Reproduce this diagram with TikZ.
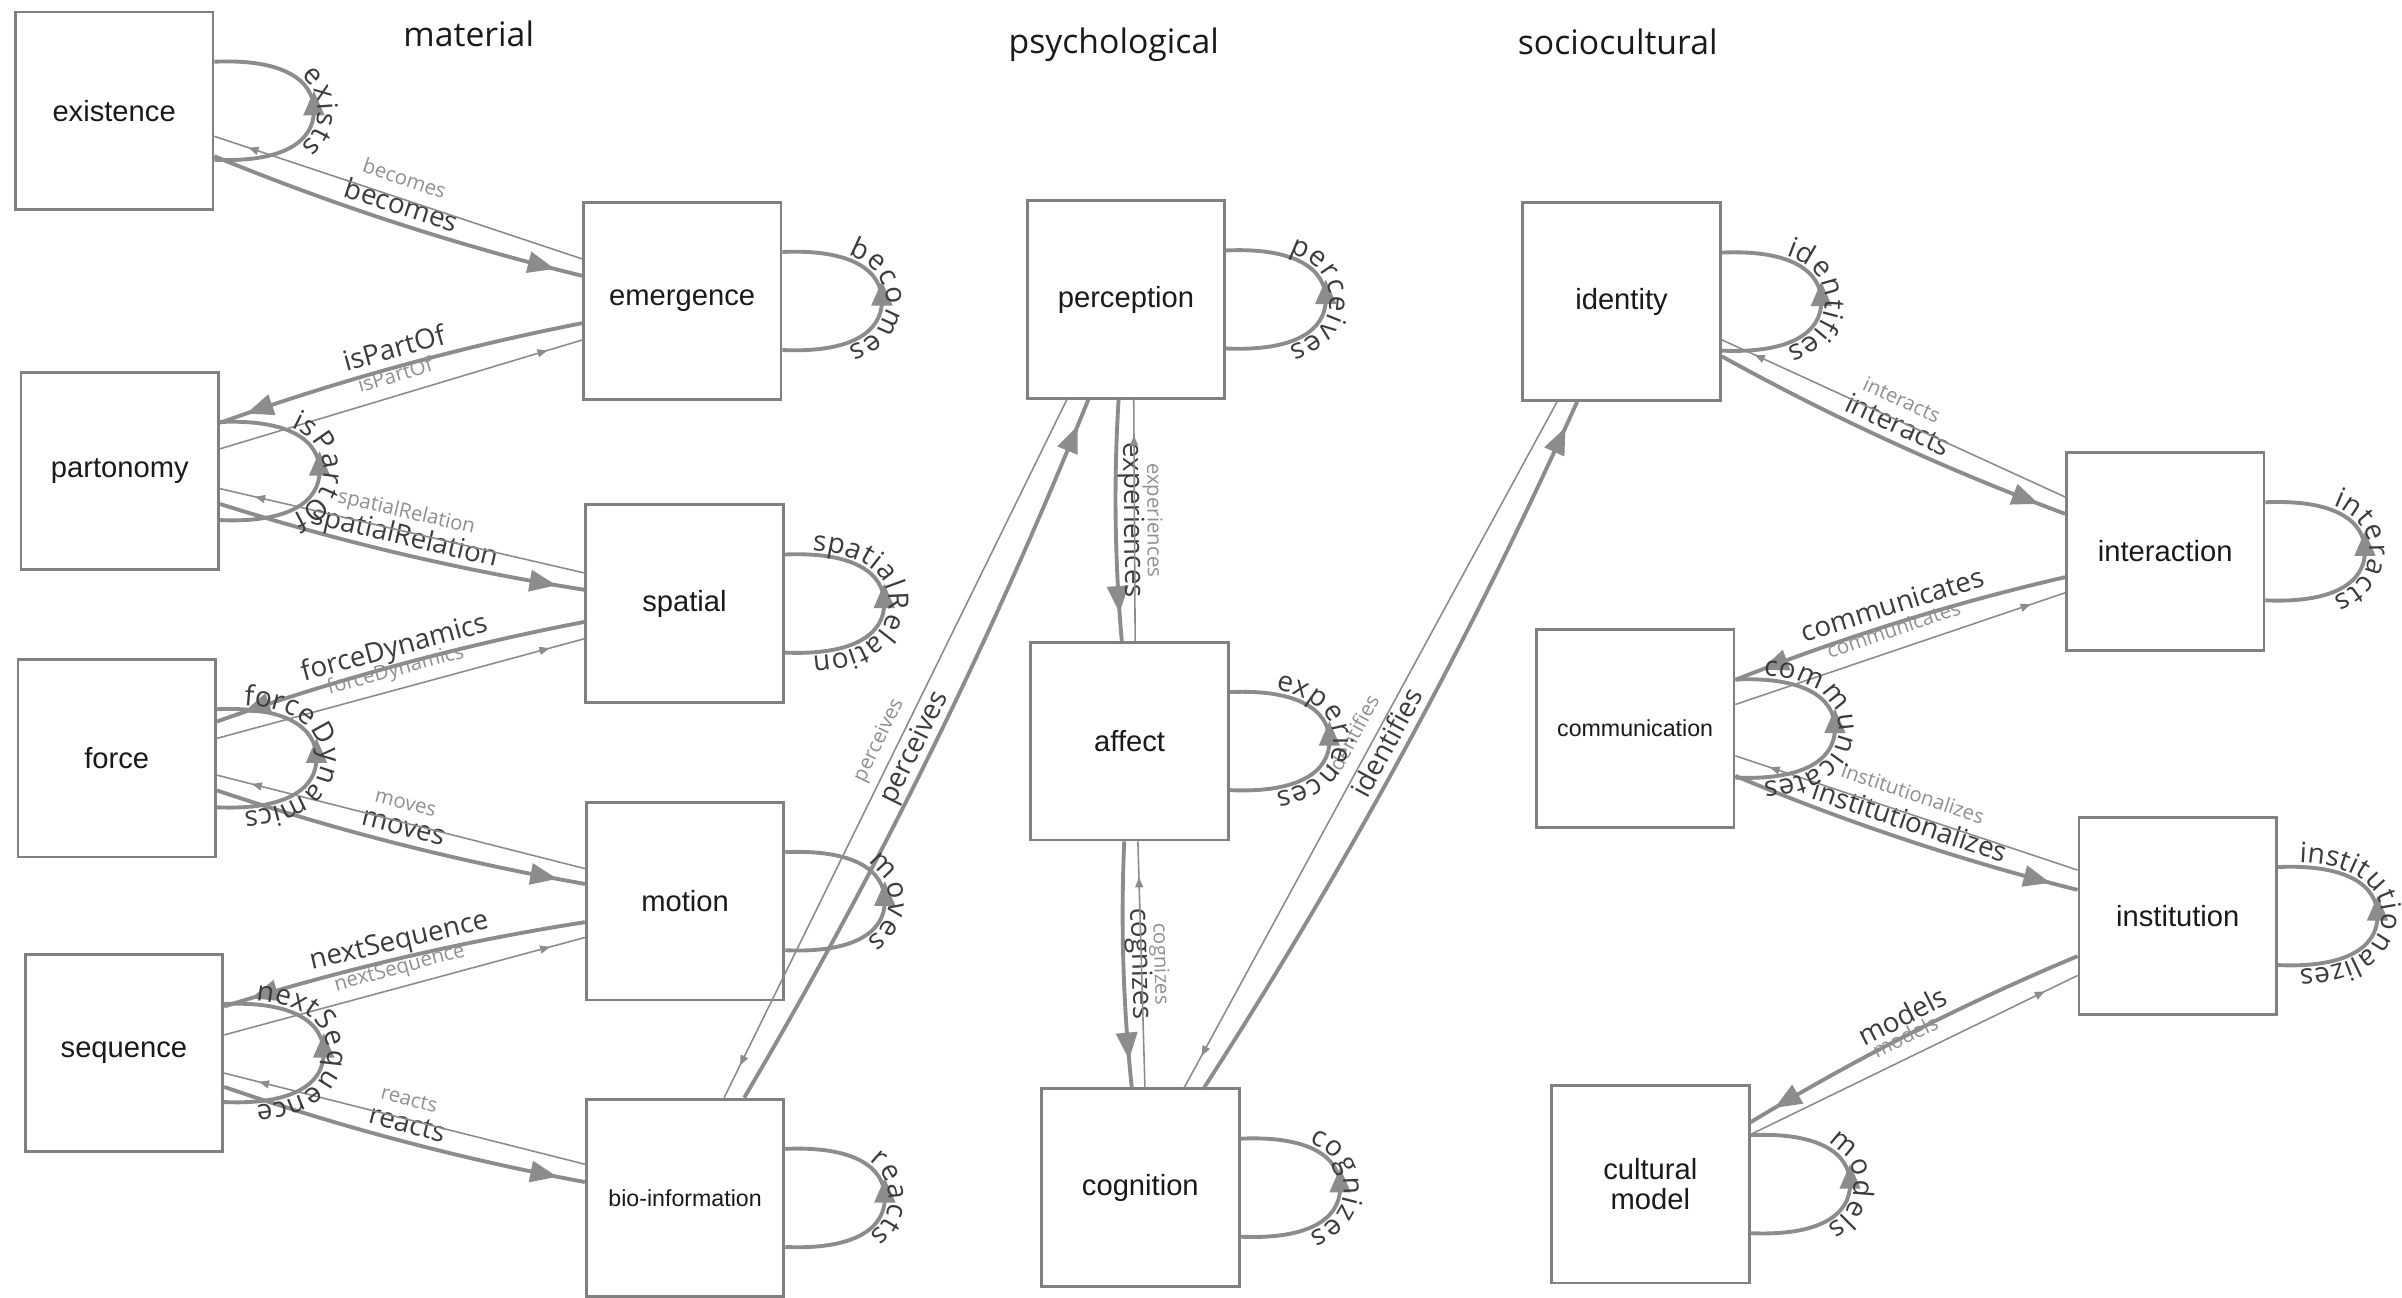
\documentclass[tikz,border=0pt]{standalone}
\usepackage{fontspec}
\setmainfont{Liberation Sans}
\newfontfamily\lblfont{Open Sans}
\usetikzlibrary{arrows.meta,calc,decorations.markings,decorations.text}

\definecolor{boxgray}{HTML}{808080}
\definecolor{linegray}{HTML}{8C8C8C}
\definecolor{labeldark}{HTML}{3C3C3C}
\definecolor{labellight}{HTML}{909090}
\definecolor{boxtext}{HTML}{1A1A1A}

\tikzset{
  bigtip/.tip={Triangle[length=0.27cm,width=0.21cm]},
  smalltip/.tip={Triangle[length=0.1cm,width=0.08cm]},
  box/.style={draw=boxgray, line width=0.8pt, fill=white, minimum width=1.976cm, minimum height=1.976cm,
    inner sep=0pt, align=center, font=\fontsize{8.3}{8.3}\selectfont, text=boxtext},
  smalltext/.style={font=\fontsize{6.6}{8}\selectfont},
  title/.style={font=\lblfont\fontsize{9.6}{11}\selectfont, text=boxtext, inner sep=0pt},
  thickline/.style={draw=linegray, line width=1.1pt},
  thinline/.style={draw=linegray, line width=0.45pt},
  loopline/.style={draw=linegray, line width=1.1pt},
  looptip/.style={fill=linegray, draw=none},
  biglabel/.style={pos=0.5, sloped, above=2pt, inner sep=0pt, text depth=0pt,
    font=\lblfont\fontsize{7.9}{9}\selectfont, text=labeldark},
  smalllabel/.style={pos=0.5, sloped, above=3.5pt, inner sep=0pt, text depth=0pt,
    font=\lblfont\fontsize{5.8}{7}\selectfont, text=labellight},
}

\newcommand{\looplab}{\lblfont\fontsize{8}{9}\selectfont\color{labeldark}}

% thick, slightly bowed connector with arrow near its end
\newcommand{\thickE}[3]{%
  \draw[thickline, decoration={markings, mark=at position -0.28cm with {\arrow[linegray]{bigtip}}}, postaction={decorate}]
    let \p1=(#1), \p2=(#2), \p3=({0.025*((\y2)-(\y1))},{-0.025*((\x2)-(\x1))}) in
    (\p1) .. controls ({\x1+((\x2)-(\x1))/3+(\x3)},{\y1+((\y2)-(\y1))/3+(\y3)})
          and ({\x1+2*((\x2)-(\x1))/3+(\x3)},{\y1+2*((\y2)-(\y1))/3+(\y3)}) .. (\p2)
    node[biglabel] {#3};}

% thin straight connector with small arrow near its end
\newcommand{\thinE}[3]{%
  \draw[thinline, decoration={markings, mark=at position -0.36cm with {\arrow[linegray]{smalltip}}}, postaction={decorate}]
    (#1) -- (#2) node[smalllabel] {#3};}

% self loop on the right side of a box, arrow pointing up at its far right
\newcommand{\selfloop}[2]{%
  \draw[loopline]
    ($(#1.east)+(0,32)$) .. controls +(45,2) and +(0,20) .. ($(#1.east)+(65,0)$)
    .. controls +(0,-20) and +(45,-2) .. ($(#1.east)+(0,-32)$);
  \fill[looptip] ($(#1.east)+(65,-13)$) -- ($(#1.east)+(72,3)$) -- ($(#1.east)+(58,3)$) -- cycle;
  \path[decorate, decoration={text along path, text align=center, raise=1.2pt, text={|\looplab|#2}}]
    ($(#1.east)+(0,-32)$) .. controls +(45,-2) and +(0,-20) .. ($(#1.east)+(65,0)$)
    .. controls +(0,20) and +(45,2) .. ($(#1.east)+(0,32)$);}

\begin{document}
\begin{tikzpicture}[x=0.01532cm, y=-0.01532cm]
\useasboundingbox (0,0) rectangle (1568,847.3);
\fill[white] (0,0) rectangle (1568,847.3);

% titles
\node[title] (tmat) at (306,22) {material};
\node[title] (tpsy) at (727,29) {psychological};
\node[title] (tsoc) at (1056,27) {sociocultural};

% boxes
\node[box] (existence) at (74.5,72.3) {existence};
\node[box] (emergence) at (445.3,196.5) {emergence};
\node[box] (partonomy) at (78.2,307.5) {partonomy};
\node[box] (spatial) at (446.8,394) {spatial};
\node[box] (force) at (76.2,495) {force};
\node[box] (motion) at (447.2,588.3) {motion};
\node[box] (sequence) at (80.9,687.4) {sequence};
\node[box,smalltext] (bio) at (447.2,782) {bio-information};
\node[box] (perception) at (735,195.5) {perception};
\node[box] (affect) at (737.4,483.8) {affect};
\node[box] (cognition) at (744.4,775.3) {cognition};
\node[box] (identity) at (1058.5,196.9) {identity};
\node[box] (interaction) at (1413.4,359.9) {interaction};
\node[box,smalltext] (communication) at (1067.4,475.6) {communication};
\node[box] (institution) at (1421.6,598) {institution};
\node[box] (cultural) at (1077.3,773) {cultural\\model};

% material
\thickE{$(existence.east)+(0,29.7)$}{$(emergence.west)+(0,-16.5)$}{becomes}
\thinE{$(emergence.west)+(0,-27.5)$}{$(existence.east)+(0,16.7)$}{becomes}
\thickE{$(emergence.west)+(0,14.5)$}{$(partonomy.east)+(0,-31.5)$}{isPartOf}
\thinE{$(partonomy.east)+(0,-14.5)$}{$(emergence.west)+(0,25.5)$}{isPartOf}
\thickE{$(partonomy.east)+(0,21.5)$}{$(spatial.west)+(0,-9)$}{spatialRelation}
\thinE{$(spatial.west)+(0,-20)$}{$(partonomy.east)+(0,11.5)$}{spatialRelation}
\thickE{$(spatial.west)+(0,12)$}{$(force.east)+(0,-24)$}{forceDynamics}
\thinE{$(force.east)+(0,-13)$}{$(spatial.west)+(0,23)$}{forceDynamics}
\thickE{$(force.east)+(0,21)$}{$(motion.west)+(0,-11.3)$}{moves}
\thinE{$(motion.west)+(0,-21.3)$}{$(force.east)+(0,11)$}{moves}
\thickE{$(motion.west)+(0,13.7)$}{$(sequence.east)+(0,-30.4)$}{nextSequence}
\thinE{$(sequence.east)+(0,-11.8)$}{$(motion.west)+(0,23.7)$}{nextSequence}
\thickE{$(sequence.east)+(0,22.1)$}{$(bio.west)+(0,-10.4)$}{reacts}
\thinE{$(bio.west)+(0,-22)$}{$(sequence.east)+(0,13.1)$}{reacts}

% psychological
\thickE{$(bio.north)+(38.6,0)$}{$(perception.south)+(-24.6,0)$}{perceives}
\thinE{$(perception.south)+(-38.6,0)$}{$(bio.north)+(25.5,0)$}{perceives}
\thickE{$(perception.south)+(-4.8,0)$}{$(affect.north)+(-5.1,0)$}{experiences}
\thinE{$(affect.north)+(3.6,0)$}{$(perception.south)+(5.1,0)$}{experiences}
\thickE{$(affect.south)+(-3.5,0)$}{$(cognition.north)+(-5.6,0)$}{cognizes}
\thinE{$(cognition.north)+(3,0)$}{$(affect.south)+(5.4,0)$}{cognizes}
\thickE{$(cognition.north)+(41.7,0)$}{$(identity.south)+(-29,0)$}{identifies}
\thinE{$(identity.south)+(-42.1,0)$}{$(cognition.north)+(28.7,0)$}{identifies}

% sociocultural
\thickE{$(identity.east)+(0,35.7)$}{$(interaction.west)+(0,-24.5)$}{interacts}
\thinE{$(interaction.west)+(0,-35.5)$}{$(identity.east)+(0,24.9)$}{interacts}
\thickE{$(interaction.west)+(0,16.9)$}{$(communication.east)+(0,-31.8)$}{communicates}
\thinE{$(communication.east)+(0,-15.7)$}{$(interaction.west)+(0,27.1)$}{communicates}
\thickE{$(communication.east)+(0,30.9)$}{$(institution.west)+(0,-17.1)$}{institutionalizes}
\thinE{$(institution.west)+(0,-30)$}{$(communication.east)+(0,17.8)$}{institutionalizes}
\thickE{$(institution.west)+(0,26.2)$}{$(cultural.east)+(0,-40.4)$}{models}
\thinE{$(cultural.east)+(0,-32.4)$}{$(institution.west)+(0,38.8)$}{models}

% self loops
\selfloop{existence}{exists}
\selfloop{emergence}{becomes}
\selfloop{partonomy}{isPartOf}
\selfloop{spatial}{spatialRelation}
\selfloop{force}{forceDynamics}
\selfloop{motion}{moves}
\selfloop{sequence}{nextSequence}
\selfloop{bio}{reacts}
\selfloop{perception}{perceives}
\selfloop{affect}{experiences}
\selfloop{cognition}{cognizes}
\selfloop{identity}{identifies}
\selfloop{interaction}{interacts}
\selfloop{communication}{communicates}
\selfloop{institution}{institutionalizes}
\selfloop{cultural}{models}
\end{tikzpicture}
\end{document}
